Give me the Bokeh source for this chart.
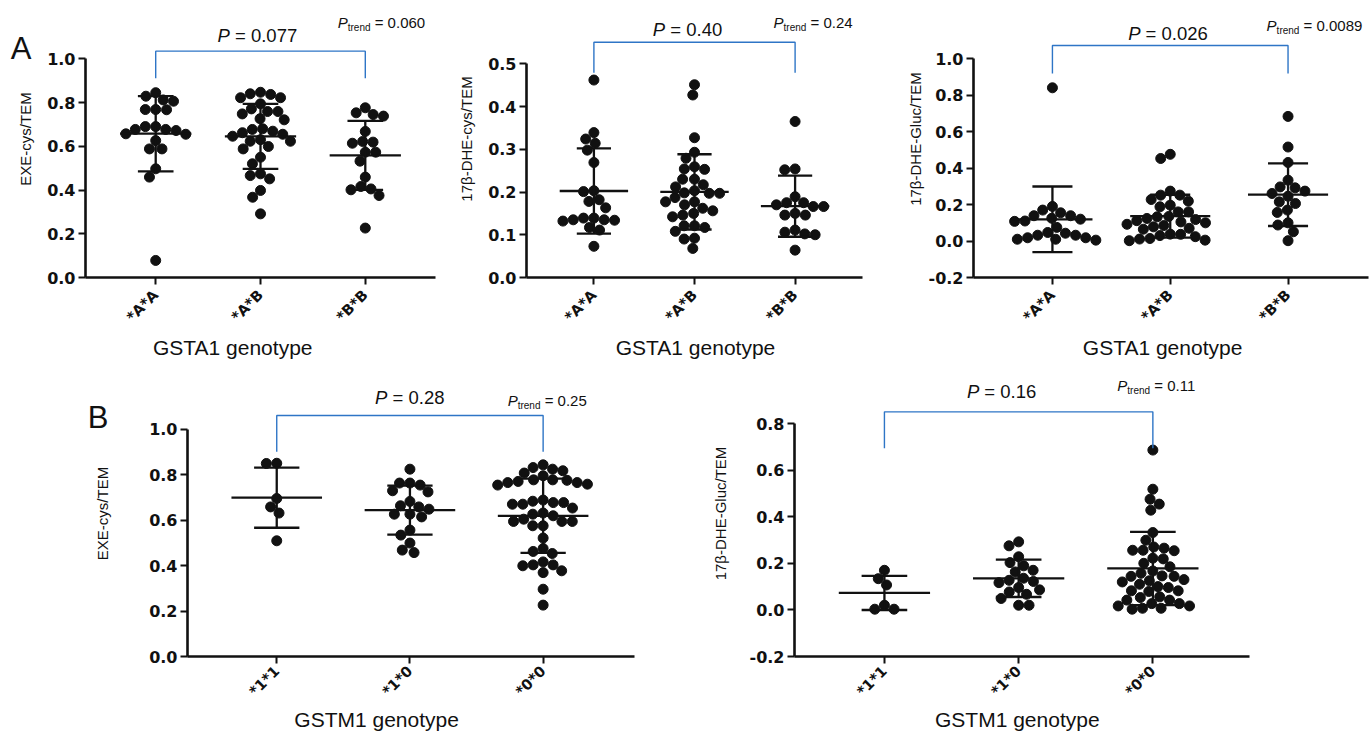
import numpy as np
from bokeh.plotting import figure
from bokeh.layouts import row, column
from bokeh.models import Label, FixedTicker, PrintfTickFormatter, LinearAxis
from bokeh.embed import file_html
from bokeh.resources import INLINE

# ---------------- data ----------------
gsta1_cats = ["*A*A", "*A*B", "*B*B"]
gstm1_cats = ["*1*1", "*1*0", "*0*0"]

exe_gsta1_AA = [0.845, 0.829, 0.812, 0.806, 0.768, 0.767, 0.768, 0.690, 0.677, 0.690,
                0.677, 0.672, 0.657, 0.655, 0.626, 0.588, 0.588, 0.497, 0.459, 0.078]
exe_gsta1_AB = [0.847, 0.837, 0.822, 0.794, 0.822, 0.840, 0.759, 0.748, 0.759, 0.771,
                0.721, 0.726, 0.677, 0.662, 0.655, 0.669, 0.680, 0.646, 0.630, 0.623,
                0.623, 0.588, 0.599, 0.550, 0.520, 0.474, 0.451, 0.466, 0.398, 0.367, 0.291]
exe_gsta1_BB = [0.776, 0.745, 0.738, 0.753, 0.668, 0.622, 0.614, 0.619, 0.573, 0.573,
                0.532, 0.459, 0.416, 0.401, 0.375, 0.405, 0.226]

dhecys_gsta1_AA = [0.462, 0.339, 0.324, 0.314, 0.298, 0.269, 0.203, 0.201, 0.182, 0.178,
                   0.163, 0.134, 0.132, 0.139, 0.139, 0.135, 0.135, 0.117, 0.111, 0.073]
dhecys_gsta1_AB = [0.451, 0.427, 0.327, 0.293, 0.279, 0.254, 0.253, 0.259, 0.230, 0.230,
                   0.212, 0.217, 0.203, 0.197, 0.198, 0.197, 0.187, 0.177, 0.177, 0.162,
                   0.170, 0.150, 0.156, 0.142, 0.146, 0.121, 0.117, 0.121, 0.108, 0.092,
                   0.090, 0.068]
dhecys_gsta1_BB = [0.365, 0.252, 0.254, 0.189, 0.175, 0.166, 0.175, 0.166, 0.170, 0.150,
                   0.146, 0.146, 0.111, 0.102, 0.100, 0.106, 0.064]

dhegluc_gsta1_AA = [0.841, 0.190, 0.155, 0.170, 0.139, 0.120, 0.108, 0.110, 0.125, 0.139,
                    0.075, 0.047, 0.032, 0.018, 0.010, 0.005, 0.010, 0.018, 0.032, 0.043]
dhegluc_gsta1_AB = [0.476, 0.453, 0.274, 0.252, 0.252, 0.228, 0.219, 0.197, 0.188, 0.160,
                    0.160, 0.135, 0.124, 0.133, 0.112, 0.118, 0.100, 0.105, 0.092, 0.085,
                    0.078, 0.070, 0.065, 0.037, 0.024, 0.011, 0.002, 0.005, 0.014, 0.030, 0.038]
dhegluc_gsta1_BB = [0.684, 0.516, 0.431, 0.334, 0.292, 0.297, 0.261, 0.246, 0.274, 0.206,
                    0.215, 0.157, 0.170, 0.100, 0.088, 0.051, 0.002]

exe_gstm1_11 = [0.850, 0.849, 0.695, 0.658, 0.631, 0.509]
exe_gstm1_10 = [0.824, 0.763, 0.754, 0.763, 0.724, 0.729, 0.682, 0.658, 0.663, 0.626,
                0.614, 0.626, 0.648, 0.556, 0.534, 0.499, 0.457, 0.468]
exe_gstm1_00 = [0.824, 0.843, 0.831, 0.807, 0.817, 0.795, 0.777, 0.775, 0.765, 0.754,
                0.758, 0.765, 0.770, 0.777, 0.688, 0.677, 0.670, 0.653, 0.670, 0.677,
                0.683, 0.626, 0.604, 0.594, 0.594, 0.594, 0.619, 0.631, 0.575, 0.575,
                0.521, 0.462, 0.453, 0.475, 0.403, 0.399, 0.369, 0.377, 0.403, 0.416,
                0.296, 0.226]

dhegluc_gstm1_11 = [0.170, 0.134, 0.107, 0.020, 0.003, 0.003]
dhegluc_gstm1_10 = [0.292, 0.275, 0.228, 0.203, 0.189, 0.163, 0.170, 0.136, 0.122, 0.117,
                    0.127, 0.077, 0.096, 0.086, 0.067, 0.049, 0.020, 0.020]
dhegluc_gstm1_00 = [0.686, 0.518, 0.454, 0.475, 0.428, 0.332, 0.299, 0.265, 0.256, 0.254,
                    0.256, 0.270, 0.222, 0.219, 0.200, 0.185, 0.167, 0.146, 0.144, 0.144,
                    0.157, 0.110, 0.096, 0.082, 0.079, 0.082, 0.100, 0.056, 0.042, 0.027,
                    0.017, 0.007, 0.003, 0.007, 0.017, 0.027, 0.042, 0.053, 0.130, 0.120, 0.125]

p_values = ["0.077", "0.40", "0.026", "0.28", "0.16"]
p_trend_values = ["0.060", "0.24", "0.0089", "0.25", "0.11"]

# ---------------- styling ----------------
FONT = "Liberation Sans"
TICKFONT = "DejaVu Sans"
BLUE = "#2e75c6"
INK = "#111111"
W = {'P': 0.667, ' ': 0.278, '=': 0.584, '.': 0.278, 't': 0.278, 'r': 0.333,
     'e': 0.556, 'n': 0.556, 'd': 0.556}


def tw(s, size):
    return sum(W.get(c, 0.556) for c in s) * size


def swarm(ypx, d):
    n = len(ypx)
    xs = np.zeros(n)
    placed = []
    for i in np.argsort(-ypx, kind="stable"):
        y = ypx[i]
        iv = []
        for xj, yj in placed:
            dy = abs(y - yj)
            if dy < d:
                dx = np.sqrt(d * d - dy * dy)
                iv.append((xj - dx, xj + dx))
        cands = [0.0] + [a for a, b in iv] + [b for a, b in iv]
        cands.sort(key=lambda c: (round(abs(c), 6), c))
        for c in cands:
            if all(not (a + 1e-6 < c < b - 1e-6) for a, b in iv):
                xs[i] = c
                break
        placed.append((xs[i], y))
    return xs


def label_axis(tick, text, size, standoff):
    # an extra axis carrying a single labelled tick, used to place free text in a border
    return LinearAxis(ticker=FixedTicker(ticks=[tick]), major_label_overrides={tick: text},
                      axis_line_color=None, major_tick_line_color=None,
                      major_tick_out=0, major_tick_in=0, minor_tick_out=0, minor_tick_in=0,
                      major_label_standoff=standoff, major_label_orientation="horizontal",
                      major_label_text_font=FONT, major_label_text_font_size=size,
                      major_label_text_color=INK)


def panel(groups, cats, ylabel, xlabel, width, height, mbl, mbr, mbb, xr, yr, yticks,
          pval, ptrend, ann, ylab_standoff=10, cat_standoff=8, xlab_standoff=2,
          letter=None):
    p = figure(width=width, height=height, x_range=xr, y_range=yr, output_backend="svg",
               toolbar_location=None, min_border_left=mbl, min_border_right=mbr,
               min_border_top=0, min_border_bottom=mbb)
    p.xgrid.visible = False
    p.ygrid.visible = False
    p.outline_line_color = None
    fw = width - mbl - mbr
    fh = height - mbb
    ppx = fw / (xr[1] - xr[0])
    ppy = fh / (yr[1] - yr[0])
    for i, vals in enumerate(groups):
        v = np.array(vals)
        off = swarm(v * ppy, 10.4) / ppx
        p.scatter(i + off, v, size=10, color=INK, line_color=INK)
        m = v.mean()
        s = v.std(ddof=1)
        p.segment(x0=[i - 0.34, i - 0.17, i - 0.17, i], y0=[m, m + s, m - s, m - s],
                  x1=[i + 0.34, i + 0.17, i + 0.17, i], y1=[m, m + s, m - s, m + s],
                  line_color=INK, line_width=2.3)
    # bracket
    bot, top = ann["bracket"]
    p.line(x=[0, 0, 2, 2], y=[bot, top, top, bot], line_color=BLUE, line_width=1.4)
    # P text
    size = 18.5
    px, py = ann["p"]
    rest = "= " + pval
    total = tw("P ", size) + tw(rest, size)
    p.add_layout(Label(x=px, y=py, text="P", x_offset=-total / 2, text_font=FONT,
                       text_font_style="italic", text_font_size=f"{size}px",
                       text_baseline="middle", text_color=INK))
    p.add_layout(Label(x=px, y=py, text=rest, x_offset=-total / 2 + tw("P ", size),
                       text_font=FONT, text_font_size=f"{size}px",
                       text_baseline="middle", text_color=INK))
    # P trend
    s1, s2 = 15, 10
    tx, ty = ann["trend"]
    p.add_layout(Label(x=tx, y=ty, text="P", text_font=FONT, text_font_style="italic",
                       text_font_size=f"{s1}px", text_baseline="middle", text_color=INK))
    p.add_layout(Label(x=tx, y=ty - 5 / ppy, text="trend", x_offset=tw("P", s1),
                       text_font=FONT, text_font_size=f"{s2}px", text_baseline="middle",
                       text_color=INK))
    p.add_layout(Label(x=tx, y=ty, text="= " + ptrend,
                       x_offset=tw("P", s1) + tw("trend", s2) + tw(" ", s1),
                       text_font=FONT, text_font_size=f"{s1}px", text_baseline="middle",
                       text_color=INK))
    # axes
    for ax in (p.xaxis, p.yaxis):
        ax.axis_line_width = 2.6
        ax.axis_line_color = INK
        ax.major_tick_line_width = 2
        ax.major_tick_line_color = INK
        ax.major_tick_out = 7
        ax.major_tick_in = 0
        ax.minor_tick_out = 0
        ax.minor_tick_in = 0
        ax.axis_label_text_font = FONT
        ax.axis_label_text_font_style = "normal"
        ax.axis_label_text_color = INK
        ax.major_label_text_color = INK
    p.yaxis.bounds = (yticks[0], yticks[-1])
    p.yaxis.ticker = FixedTicker(ticks=yticks)
    p.yaxis.formatter = PrintfTickFormatter(format="%.1f")
    p.yaxis.major_label_text_font = TICKFONT
    p.yaxis.major_label_text_font_style = "bold"
    p.yaxis.major_label_text_font_size = "16px"
    p.yaxis.major_label_standoff = 3
    p.yaxis.axis_label = ylabel
    p.yaxis.axis_label_text_font_size = "15px"
    p.yaxis.axis_label_standoff = ylab_standoff
    p.xaxis.ticker = FixedTicker(ticks=[0, 1, 2])
    p.xaxis.major_label_overrides = {i: c for i, c in enumerate(cats)}
    p.xaxis.major_label_orientation = np.pi / 4
    p.xaxis.major_label_text_font = TICKFONT
    p.xaxis.major_label_text_font_style = "bold"
    p.xaxis.major_label_text_font_size = "14.5px"
    p.xaxis.major_label_standoff = cat_standoff
    # x title (placed at its own position along the axis, as in the original)
    p.add_layout(label_axis(ann["xlab"], xlabel, "21px", xlab_standoff), "below")
    # panel letter
    if letter is not None:
        ly, lt, shift = letter
        p.add_layout(label_axis(ly, lt, "31px", -shift), "left")
    return p


# top row: canvas 0..370, x-axis at y=277; bottom row: canvas 370..734, x-axis at y=656
a1 = panel([exe_gsta1_AA, exe_gsta1_AB, exe_gsta1_BB], gsta1_cats, "EXE-cys/TEM",
           "GSTA1 genotype", 455, 370, 85, 20, 93, (-0.67, 2.67), (0, 1.2666),
           [0, 0.2, 0.4, 0.6, 0.8, 1.0], p_values[0], p_trend_values[0],
           {"bracket": (0.911, 1.035), "p": (0.970, 1.107), "trend": (1.737, 1.167),
            "xlab": 0.735},
           letter=(1.047, "A", 17))
a2 = panel([dhecys_gsta1_AA, dhecys_gsta1_AB, dhecys_gsta1_BB], gsta1_cats,
           "17β-DHE-cys/TEM", "GSTA1 genotype", 440, 370, 71, 33, 93, (-0.67, 2.67),
           (0, 0.6481), [0, 0.1, 0.2, 0.3, 0.4, 0.5], p_values[1], p_trend_values[1],
           {"bracket": (0.479, 0.5505), "p": (0.931, 0.5796), "trend": (1.786, 0.5966),
            "xlab": 1.01})
a3 = panel([dhegluc_gsta1_AA, dhegluc_gsta1_AB, dhegluc_gsta1_BB], gsta1_cats,
           "17β-DHE-Gluc/TEM", "GSTA1 genotype", 477, 370, 78, 4, 93, (-0.67, 2.683),
           (-0.2, 1.320), [-0.2, 0, 0.2, 0.4, 0.6, 0.8, 1.0], p_values[2], p_trend_values[2],
           {"bracket": (0.919, 1.073), "p": (0.981, 1.137), "trend": (1.818, 1.183),
            "xlab": 0.935},
           ylab_standoff=2)
b1 = panel([exe_gstm1_11, exe_gstm1_10, exe_gstm1_00], gstm1_cats, "EXE-cys/TEM",
           "GSTM1 genotype", 690, 364, 187, 56, 78, (-0.67, 2.686), (0, 1.258),
           [0, 0.2, 0.4, 0.6, 0.8, 1.0], p_values[3], p_trend_values[3],
           {"bracket": (0.901, 1.060), "p": (0.999, 1.140), "trend": (1.734, 1.126),
            "xlab": 0.75},
           ylab_standoff=35, cat_standoff=5, xlab_standoff=0,
           letter=(1.052, "B", 17))
b2 = panel([dhegluc_gstm1_11, dhegluc_gstm1_10, dhegluc_gstm1_00], gstm1_cats,
           "17β-DHE-Gluc/TEM", "GSTM1 genotype", 682, 364, 104, 123, 78, (-0.67, 2.72),
           (-0.2, 1.0275), [-0.2, 0, 0.2, 0.4, 0.6, 0.8], p_values[4], p_trend_values[4],
           {"bracket": (0.694, 0.850), "p": (0.873, 0.939), "trend": (1.735, 0.963),
            "xlab": 0.99},
           ylab_standoff=18, cat_standoff=5, xlab_standoff=0)

layout = column(row(a1, a2, a3), row(b1, b2))
open("out.html", "w").write(file_html(layout, INLINE))
